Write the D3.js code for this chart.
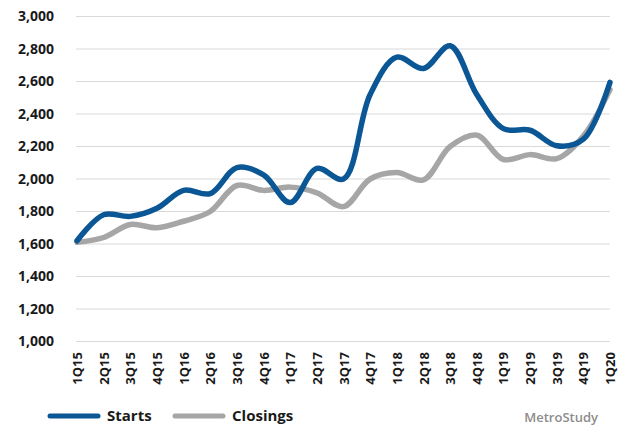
<!DOCTYPE html>
<html>
<head>
<meta charset="utf-8">
<script src="https://cdn.jsdelivr.net/npm/d3@7"></script>
<style>
  body { margin: 0; background: #fff; }
  text { font-family: "Open Sans", "Noto Sans", sans-serif; }
</style>
</head>
<body>
<script>
var w = 631;
var h = 426;

var quarters = ["1Q15","2Q15","3Q15","4Q15","1Q16","2Q16","3Q16","4Q16","1Q17","2Q17",
  "3Q17","4Q17","1Q18","2Q18","3Q18","4Q18","1Q19","2Q19","3Q19","4Q19","1Q20"];
var starts = [1620, 1780, 1770, 1820, 1930, 1910, 2070, 2025, 1855, 2065,
  2000, 2520, 2750, 2680, 2820, 2520, 2310, 2300, 2205, 2245, 2595];
var closings = [1610, 1640, 1720, 1700, 1740, 1800, 1960, 1930, 1950, 1915,
  1830, 2000, 2040, 1995, 2200, 2270, 2120, 2150, 2125, 2265, 2550];
var yTicks = [1000, 1200, 1400, 1600, 1800, 2000, 2200, 2400, 2600, 2800, 3000];

var svg = d3.select("body").append("svg")
  .attr("width", w)
  .attr("height", h);

var x = d3.scalePoint().domain(quarters).range([77, 610]);
var y = d3.scaleLinear().domain([1000, 3000]).range([341.5, 16.5]);

// gridlines
svg.selectAll("line.grid")
  .data(yTicks)
  .enter()
  .append("line")
  .attr("class", "grid")
  .attr("x1", 76)
  .attr("x2", 610)
  .attr("y1", function(d){ return y(d); })
  .attr("y2", function(d){ return y(d); })
  .attr("stroke", "#d9d9d9")
  .attr("stroke-width", 1.2);

// y axis labels
var yAxis = d3.axisLeft(y).tickValues(yTicks).tickSize(0).tickPadding(0)
  .tickFormat(d3.format(","));
var gy = svg.append("g").attr("transform", "translate(54,0)").call(yAxis);
gy.select(".domain").remove();
gy.selectAll("text")
  .attr("font-size", "14px")
  .attr("font-weight", "bold")
  .attr("font-family", "'Open Sans', sans-serif")
  .attr("fill", "#1a1a1a");

// x axis labels
var xAxis = d3.axisBottom(x).tickSize(0).tickPadding(0);
var gx = svg.append("g").attr("transform", "translate(0,352)").call(xAxis);
gx.select(".domain").remove();
gx.selectAll("text")
  .attr("font-size", "13px")
  .attr("font-weight", "bold")
  .attr("font-family", "'Open Sans', sans-serif")
  .attr("fill", "#1a1a1a")
  .attr("text-anchor", "end")
  .attr("transform", "rotate(-90)")
  .attr("x", 0)
  .attr("y", 0)
  .attr("dx", "0")
  .attr("dy", "0.35em");

var line = d3.line()
  .x(function(d, i){ return x(quarters[i]); })
  .y(function(d){ return y(d); })
  .curve(d3.curveCatmullRom.alpha(0.5));

svg.append("path")
  .attr("d", line(closings))
  .attr("fill", "none")
  .attr("stroke", "#a6a6a6")
  .attr("stroke-width", 5.5)
  .attr("stroke-linecap", "round");

svg.append("path")
  .attr("d", line(starts))
  .attr("fill", "none")
  .attr("stroke", "#0b5796")
  .attr("stroke-width", 5.5)
  .attr("stroke-linecap", "round");

// legend
var legend = [
  {name: "Starts", color: "#0b5796", x: 48},
  {name: "Closings", color: "#a6a6a6", x: 173}
];
legend.forEach(function(l){
  svg.append("line")
    .attr("x1", l.x + 2).attr("x2", l.x + 50)
    .attr("y1", 416).attr("y2", 416)
    .attr("stroke", l.color)
    .attr("stroke-width", 5)
    .attr("stroke-linecap", "round");
  svg.append("text")
    .text(l.name)
    .attr("x", l.x + 59)
    .attr("y", 421)
    .attr("font-size", "15px")
    .attr("font-weight", "bold")
    .attr("fill", "#1a1a1a");
});

svg.append("text")
  .text("MetroStudy")
  .attr("x", 598)
  .attr("y", 422)
  .attr("text-anchor", "end")
  .attr("font-size", "13px")
  .attr("font-weight", "600")
  .attr("fill", "#8c8c8c");
</script>
</body>
</html>
